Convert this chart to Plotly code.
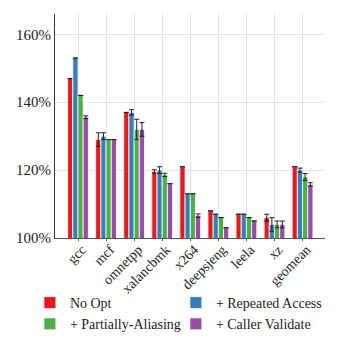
import plotly.graph_objects as go

benchmarks = ["gcc", "mcf", "omnetpp", "xalancbmk", "x264", "deepsjeng", "leela", "xz", "geomean"]

no_opt = [147.0, 129.0, 137.0, 119.6, 121.0, 108.0, 107.0, 106.0, 121.0]
no_opt_err = [0.0, 2.0, 0.0, 0.5, 0.0, 0.0, 0.0, 1.0, 0.0]

repeated = [153.0, 130.0, 137.0, 120.0, 113.0, 107.0, 107.0, 104.0, 120.0]
repeated_err = [0.0, 1.0, 0.8, 1.0, 0.0, 0.0, 0.0, 2.0, 0.6]

partial = [142.0, 129.0, 132.0, 118.6, 113.0, 106.0, 106.0, 104.0, 118.0]
partial_err = [0.0, 0.0, 3.0, 0.5, 0.0, 0.0, 0.0, 1.0, 1.0]

caller = [135.6, 129.0, 132.0, 116.0, 106.6, 103.0, 105.0, 104.0, 115.8]
caller_err = [0.4, 0.0, 2.0, 0.0, 0.5, 0.0, 0.0, 1.0, 0.5]

y_ticks = [100, 120, 140, 160]
y_labels = ["100%", "120%", "140%", "160%"]

series = [
    ("No Opt", no_opt, no_opt_err, "#e41a1c"),
    ("+ Repeated Access", repeated, repeated_err, "#377eb8"),
    ("+ Partially-Aliasing", partial, partial_err, "#4daf4a"),
    ("+ Caller Validate", caller, caller_err, "#984ea3"),
]

serif = "Times New Roman, Liberation Serif, DejaVu Serif, serif"

fig = go.Figure()
for name, vals, errs, color in series:
    fig.add_trace(go.Bar(
        x=benchmarks,
        y=vals,
        name=name,
        marker=dict(color=color, line=dict(color="white", width=0.8)),
        error_y=dict(type="data", array=errs, color="#222222", thickness=1, width=2.5),
    ))

# page body has an 8px margin, so the figure is drawn 8px smaller
fig.update_layout(
    width=337,
    height=340,
    barmode="group",
    bargap=0.26,
    bargroupgap=0.0,
    plot_bgcolor="white",
    paper_bgcolor="white",
    margin=dict(l=47, r=20, t=6, b=110, autoexpand=False),
    font=dict(family=serif, size=13, color="#222222"),
    showlegend=True,
    legend=dict(
        orientation="h",
        x=-0.093,
        y=-0.219,
        xanchor="left",
        yanchor="top",
        bgcolor="rgba(0,0,0,0)",
        entrywidth=101,
        entrywidthmode="pixels",
        font=dict(family=serif, size=14),
        traceorder="normal",
        itemwidth=30,
        tracegroupgap=0,
    ),
)

fig.update_xaxes(
    tickangle=-45,
    showgrid=True,
    gridcolor="#e3e3e3",
    showline=True,
    linecolor="#555555",
    ticks="outside",
    ticklen=2,
    tickcolor="#555555",
    ticklabelstandoff=-5,
    ticklabelshift=4,
    range=[-0.82, 8.8],
    tickfont=dict(family=serif, size=14),
)
fig.update_yaxes(
    range=[100, 166],
    tickvals=y_ticks,
    ticktext=y_labels,
    showgrid=True,
    gridcolor="#e3e3e3",
    showline=True,
    linecolor="#333333",
    zeroline=False,
    tickfont=dict(family=serif, size=15),
)

fig.write_html("out.html")
